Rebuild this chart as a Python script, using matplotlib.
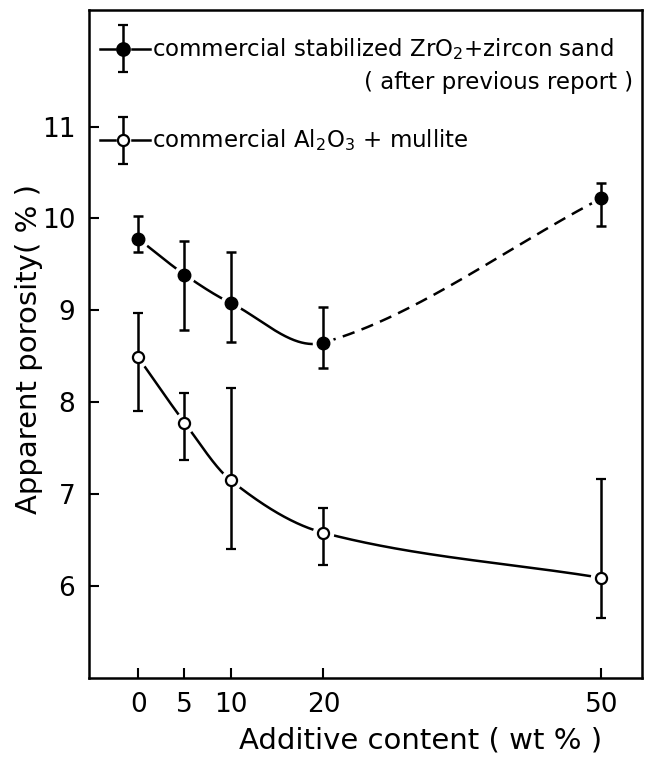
import numpy as np
import matplotlib.pyplot as plt

# Datos
additive = [0, 5, 10, 20, 50]

zro2_mean = [9.78, 9.39, 9.08, 8.65, 10.22]
zro2_hi = [10.03, 9.76, 9.63, 9.04, 10.39]
zro2_lo = [9.63, 8.79, 8.66, 8.37, 9.92]

al2o3_mean = [8.49, 7.78, 7.15, 6.58, 6.09]
al2o3_hi = [8.97, 8.10, 8.16, 6.85, 7.17]
al2o3_lo = [7.90, 7.37, 6.40, 6.23, 5.65]

x_ticks = [0, 5, 10, 20, 50]
y_ticks = [6, 7, 8, 9, 10, 11]


def smooth_curve(x, y, xs):
    # curva suave (Hermite con pendientes tipo Catmull-Rom) que pasa por los puntos
    x = np.asarray(x, float)
    y = np.asarray(y, float)
    h = np.diff(x)
    d = np.diff(y) / h
    m = np.empty_like(y)
    m[0] = d[0]
    m[-1] = d[-1]
    m[1:-1] = (y[2:] - y[:-2]) / (x[2:] - x[:-2])
    out = np.empty_like(xs)
    for i, v in enumerate(xs):
        k = min(np.searchsorted(x, v, side='right') - 1, len(x) - 2)
        t = (v - x[k]) / h[k]
        h00 = 2 * t**3 - 3 * t**2 + 1
        h10 = t**3 - 2 * t**2 + t
        h01 = -2 * t**3 + 3 * t**2
        h11 = t**3 - t**2
        out[i] = h00 * y[k] + h10 * h[k] * m[k] + h01 * y[k + 1] + h11 * h[k] * m[k + 1]
    return out


fig = plt.figure(figsize=(6.5, 7.58), dpi=100)
ax = fig.add_axes([0.137, 0.1055, 0.851, 0.8815])

xs = np.linspace(0, 50, 800)
ys_z = smooth_curve(additive, zro2_mean, xs)
ys_a = smooth_curve(additive, al2o3_mean, xs)

# líneas: continua hasta 20 %, discontinua de 20 a 50 %
ax.plot(xs[xs <= 20], ys_z[xs <= 20], color='black', lw=1.8, zorder=1)
ax.plot(xs[xs >= 20], ys_z[xs >= 20], color='black', lw=1.8, ls=(0, (5, 3)), zorder=1)
ax.plot(xs, ys_a, color='black', lw=1.8, zorder=1)

# huecos blancos alrededor de los marcadores
ax.plot(additive, zro2_mean, 'o', ms=14.5, color='white', zorder=2)
ax.plot(additive, al2o3_mean, 'o', ms=14.5, color='white', zorder=2)

z_err = [np.array(zro2_mean) - np.array(zro2_lo), np.array(zro2_hi) - np.array(zro2_mean)]
a_err = [np.array(al2o3_mean) - np.array(al2o3_lo), np.array(al2o3_hi) - np.array(al2o3_mean)]
ax.errorbar(additive, zro2_mean, yerr=z_err, fmt='o', color='black', ms=9,
            mfc='black', mec='black', elinewidth=1.8, capsize=3.5, capthick=1.8, zorder=3)
ax.errorbar(additive, al2o3_mean, yerr=a_err, fmt='o', color='black', ms=8,
            mfc='white', mec='black', mew=1.6, elinewidth=1.8, capsize=3.5, capthick=1.8, zorder=3)

# leyenda dibujada a mano
tr = ax.transAxes
for yy, face, size in [(0.942, 'black', 9), (0.805, 'white', 8)]:
    ax.plot([0.020, 0.047], [yy, yy], color='black', lw=1.8, transform=tr)
    ax.plot([0.078, 0.110], [yy, yy], color='black', lw=1.8, transform=tr)
    ax.errorbar([0.062], [yy], yerr=[[0.035], [0.035]], transform=tr, fmt='o', ms=size,
                color='black', mfc=face, mec='black', mew=1.6, elinewidth=1.8,
                capsize=3.5, capthick=1.8)
ax.text(0.114, 0.942, 'commercial stabilized ZrO$_2$+zircon sand', transform=tr,
        fontsize=16.5, va='center', ha='left')
ax.text(0.984, 0.892, '( after previous report )', transform=tr,
        fontsize=16.5, va='center', ha='right')
ax.text(0.114, 0.805, 'commercial Al$_2$O$_3$ + mullite', transform=tr,
        fontsize=16.5, va='center', ha='left')

ax.set_xlim(-5.3, 54.4)
ax.set_ylim(5.0, 12.27)
ax.set_xticks(x_ticks)
ax.set_yticks(y_ticks)
ax.tick_params(direction='in', length=7, width=1.5, labelsize=19, pad=10)
for s in ax.spines.values():
    s.set_linewidth(1.8)

ax.set_xlabel('Additive content ( wt % )', fontsize=21, va='top')
ax.xaxis.set_label_coords(0.599, -0.073)
ax.set_ylabel('Apparent porosity( % )', fontsize=21)
ax.yaxis.set_label_coords(-0.083, 0.4925)

fig.savefig('out.png', dpi=100)
